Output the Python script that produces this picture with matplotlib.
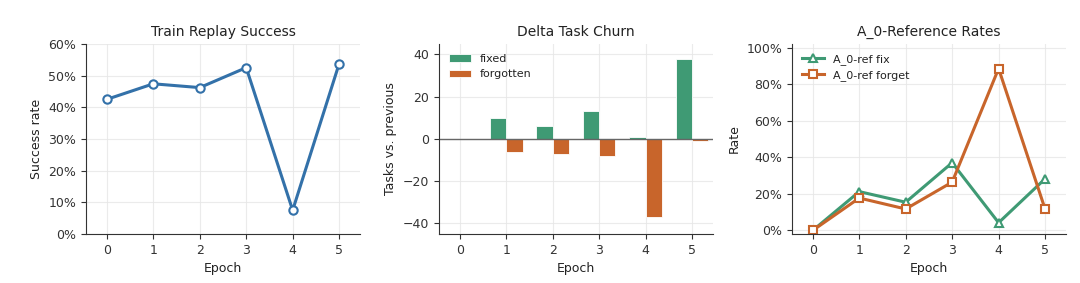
import matplotlib
matplotlib.use("Agg")
import matplotlib.pyplot as plt
import numpy as np
from matplotlib.ticker import PercentFormatter

epochs = [0, 1, 2, 3, 4, 5]
success_rate = [0.425, 0.474, 0.462, 0.525, 0.075, 0.537]
fixed = [0, 10, 6, 13, 1, 38]
forgotten = [0, -6, -7, -8, -37, -1]
ref_fix = [0.0, 0.212, 0.154, 0.37, 0.042, 0.282]
ref_forget = [0.0, 0.177, 0.117, 0.264, 0.885, 0.117]

BLUE = "#3371a9"
GREEN = "#3f9a74"
ORANGE = "#c8652b"
TXT = "#222222"

plt.rcParams.update({
    "font.family": ["DejaVu Sans"],
    "font.size": 9,
    "axes.edgecolor": "#333333",
    "xtick.color": "#333333",
    "ytick.color": "#333333",
    "xtick.labelsize": 9,
    "ytick.labelsize": 9,
    "axes.labelcolor": TXT,
    "text.color": TXT,
})

fig, axes = plt.subplots(1, 3, figsize=(10.8, 2.83), dpi=100)
fig.subplots_adjust(left=0.0796, right=0.987, top=0.845, bottom=0.173, wspace=0.288)

for ax in axes:
    ax.spines["top"].set_visible(False)
    ax.spines["right"].set_visible(False)
    ax.grid(True, color="#e6e6e6", linewidth=0.8, alpha=0.8)
    ax.set_axisbelow(True)
    ax.set_xticks(epochs)
    ax.set_xlim(-0.45, 5.45)
    ax.set_xlabel("Epoch", fontsize=9)

# Panel 1
ax = axes[0]
ax.plot(epochs, success_rate, color=BLUE, lw=2.2, marker="o", ms=6,
        mfc="white", mec=BLUE, mew=1.5)
ax.set_ylim(0, 0.6)
ax.yaxis.set_major_formatter(PercentFormatter(1.0, decimals=0))
ax.set_ylabel("Success rate", fontsize=9)
ax.set_title("Train Replay Success", fontsize=10)

# Panel 2
ax = axes[1]
x = np.arange(len(epochs))
w = 0.35
ax.bar(x - w / 2, fixed, width=w, color=GREEN, edgecolor="white", linewidth=0.6, label="fixed")
ax.bar(x + w / 2, forgotten, width=w, color=ORANGE, edgecolor="white", linewidth=0.6, label="forgotten")
ax.axhline(0, color="#666666", lw=1.0)
ax.set_ylim(-45, 45)
ax.set_yticks([-40, -20, 0, 20, 40])
ax.set_ylabel("Tasks vs. previous", fontsize=9)
ax.set_title("Delta Task Churn", fontsize=10)
ax.legend(loc="upper left", frameon=False, fontsize=8)

# Panel 3
ax = axes[2]
ax.plot(epochs, ref_fix, color=GREEN, lw=2.2, marker="^", ms=6,
        mfc="white", mec=GREEN, mew=1.5, label="A_0-ref fix")
ax.plot(epochs, ref_forget, color=ORANGE, lw=2.2, marker="s", ms=6,
        mfc="white", mec=ORANGE, mew=1.5, label="A_0-ref forget")
ax.set_ylim(-0.02, 1.02)
ax.set_yticks([0, 0.2, 0.4, 0.6, 0.8, 1.0])
ax.yaxis.set_major_formatter(PercentFormatter(1.0, decimals=0))
ax.set_ylabel("Rate", fontsize=9)
ax.set_title("A_0-Reference Rates", fontsize=10)
ax.legend(loc="upper left", frameon=False, fontsize=8)

fig.savefig("out.png", dpi=100)
